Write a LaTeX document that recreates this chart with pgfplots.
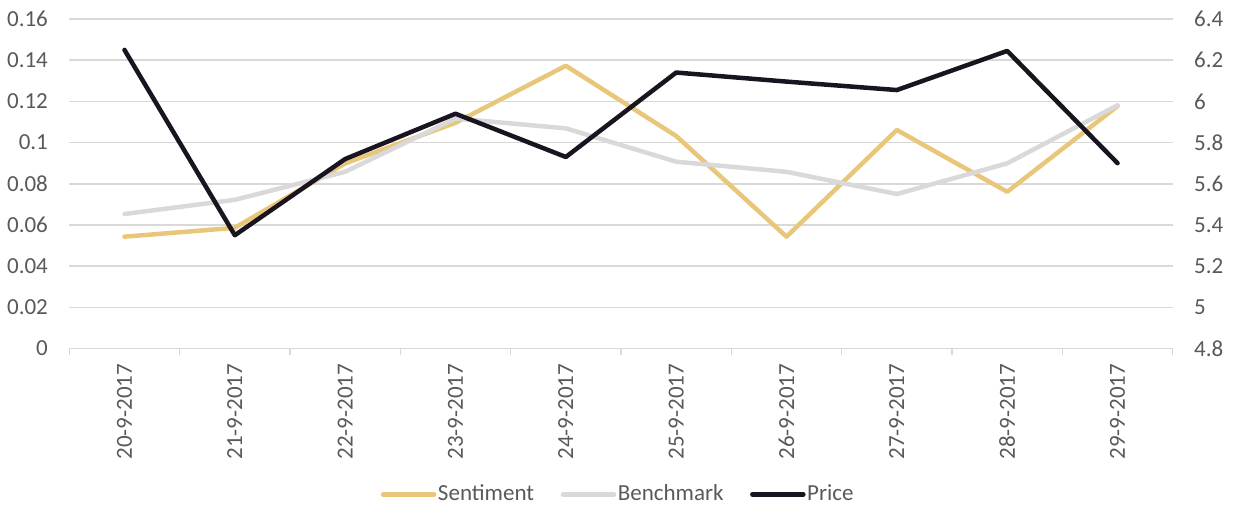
\documentclass[border=0pt]{standalone}
\usepackage{fontspec}
\setmainfont{Carlito}
\usepackage{pgfplots}
\pgfplotsset{compat=1.18}
\definecolor{sentc}{RGB}{233,199,122}
\definecolor{benchc}{RGB}{217,217,217}
\definecolor{pricec}{RGB}{26,20,32}
\definecolor{gridc}{RGB}{217,217,217}
\definecolor{textc}{RGB}{89,89,89}
\pgfplotsset{
  common/.style={
    scale only axis,
    width=551.7pt, height=164.75pt,
    at={(0pt,0pt)}, anchor=south west,
    xmin=-0.5, xmax=9.5,
    font=\fontsize{11.5}{13}\selectfont,
    every tick label/.append style={text=textc, font=\fontsize{11.5}{13}\selectfont},
    yticklabel style={inner sep=0pt},
    yticklabel shift=10.5pt,
    major tick length=0pt,
  },
  sentstyle/.style={color=sentc, line width=2.25pt, line join=round, line cap=round},
  benchstyle/.style={color=benchc, line width=2.25pt, line join=round, line cap=round},
  pricestyle/.style={color=pricec, line width=2.25pt, line join=round, line cap=round},
}
\begin{document}
\begin{tikzpicture}
\useasboundingbox (-34.65pt,-85.25pt) rectangle (582.35pt,174.25pt);
\begin{axis}[
  common,
  ymin=0, ymax=0.16,
  ytick={0,0.02,0.04,0.06,0.08,0.1,0.12,0.14,0.16},
  yticklabels={0,0.02,0.04,0.06,0.08,0.1,0.12,0.14,0.16},
  xtick={0,1,2,3,4,5,6,7,8,9},
  xticklabels={20-9-2017,21-9-2017,22-9-2017,23-9-2017,24-9-2017,25-9-2017,26-9-2017,27-9-2017,28-9-2017,29-9-2017},
  xticklabel style={rotate=90, anchor=east, inner sep=0pt},
  xticklabel shift=7.5pt,
  minor xtick={-0.5,0.5,1.5,2.5,3.5,4.5,5.5,6.5,7.5,8.5,9.5},
  minor tick length=3pt,
  tick align=outside,
  every minor tick/.style={draw=gridc, line width=0.75pt},
  axis x line*=bottom, axis y line*=left,
  x axis line style={draw=gridc, line width=0.75pt},
  y axis line style={draw=none},
  ymajorgrids,
  grid style={draw=gridc, line width=0.75pt},
]
\addplot[sentstyle] coordinates {(0,0.0543) (1,0.0586) (2,0.0899) (3,0.1096) (4,0.1373) (5,0.1032) (6,0.0543) (7,0.1061) (8,0.0761) (9,0.1177)};
\addplot[benchstyle] coordinates {(0,0.0653) (1,0.0722) (2,0.0858) (3,0.1117) (4,0.1069) (5,0.0907) (6,0.0858) (7,0.0750) (8,0.0899) (9,0.1181)};
\end{axis}
\begin{axis}[
  common,
  ymin=4.8, ymax=6.4,
  ytick={4.8,5,5.2,5.4,5.6,5.8,6,6.2,6.4},
  yticklabels={4.8,5,5.2,5.4,5.6,5.8,6,6.2,6.4},
  axis x line=none,
  axis y line*=right,
  y axis line style={draw=none},
  legend columns=3,
  legend style={at={(0.4973,-0.4425)}, anchor=center, draw=none, fill=none,
    font=\fontsize{11.5}{13}\selectfont, text=textc,
    inner sep=0pt, row sep=0pt,
    nodes={inner sep=0.8pt},
    /tikz/every even column/.append style={column sep=12.5pt}},
  legend image code/.code={\draw[#1] (0pt,0pt) -- (25.5pt,0pt);},
]
\addlegendimage{sentstyle}
\addlegendentry{Sentiment}
\addlegendimage{benchstyle}
\addlegendentry{Benchmark}
\addplot[pricestyle] coordinates {(0,6.25) (1,5.35) (2,5.72) (3,5.94) (4,5.73) (5,6.14) (6,6.096) (7,6.055) (8,6.245) (9,5.70)};
\addlegendentry{Price}
\end{axis}
\end{tikzpicture}
\end{document}
